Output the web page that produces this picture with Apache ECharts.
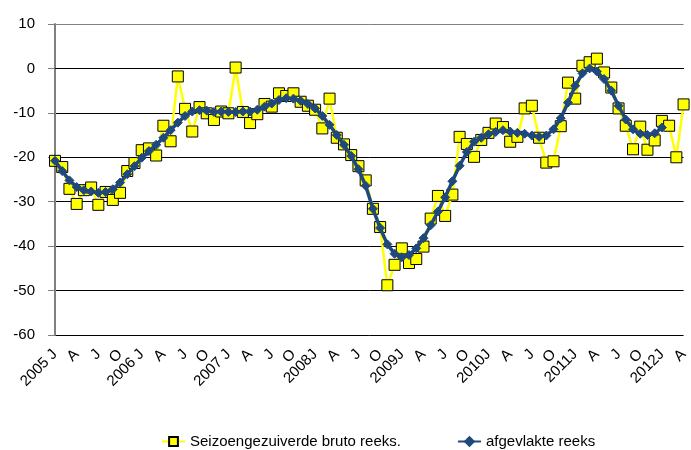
<!DOCTYPE html>
<html>
<head>
<meta charset="utf-8">
<script src="https://cdn.jsdelivr.net/npm/echarts@6/dist/echarts.min.js"></script>
<style>
html,body{margin:0;padding:0;background:#fff;}
#chart{width:691px;height:450px;}
</style>
</head>
<body>
<div id="chart"></div>
<script>
var years = [2005, 2006, 2007, 2008, 2009, 2010, 2011, 2012];
var yearLabels = ["2005 J", "2006 J", "2007 J", "2008J", "2009J", "2010J", "2011J", "2012J"];
var monthLetters = ["J","F","M","A","M","J","J","A","S","O","N","D"];
var monthCount = 88;

var bruto = [
  -20.8, -22.2, -27.1, -30.5, -27.4, -26.8, -30.7, -27.8, -29.6, -28.0, -23.1, -21.3,
  -18.4, -18.0, -19.6, -12.9, -16.4, -1.8, -9.1, -14.2, -8.7, -10.1, -11.6, -9.7,
  -10.1, 0.2, -9.8, -12.3, -10.3, -8.0, -8.6, -5.6, -6.2, -5.6, -7.5, -8.4,
  -9.3, -13.5, -6.8, -15.6, -17.1, -19.5, -22.0, -25.2, -31.6, -35.7, -48.8, -44.2,
  -40.5, -43.8, -42.9, -40.1, -33.8, -28.7, -33.2, -28.4, -15.4, -17.0, -19.9, -16.1,
  -14.5, -12.4, -13.2, -16.5, -15.4, -9.0, -8.4, -15.6, -21.2, -20.9, -13.0, -3.2,
  -6.8, 0.6, 1.4, 2.2, -0.9, -4.3, -9.0, -12.9, -18.2, -13.1, -18.3, -16.2,
  -11.8, -12.9, -20.0, -8.1
];

var afgevlakt = [
  -20.8, -23.1, -25.2, -26.7, -27.4, -27.7, -28.0, -27.8, -27.2, -25.7, -23.8, -22.0,
  -20.1, -18.6, -17.2, -15.6, -13.9, -12.2, -10.7, -9.7, -9.4, -9.5, -9.8, -9.7,
  -9.8, -9.8, -9.7, -9.7, -9.3, -8.6, -7.9, -7.1, -6.7, -6.8, -7.3, -8.0,
  -9.0, -10.7, -12.7, -15.0, -17.2, -19.7, -22.7, -26.4, -31.6, -35.9, -39.6, -41.7,
  -42.5, -42.0, -40.5, -38.2, -35.3, -32.2, -29.0, -25.4, -21.9, -18.8, -16.5, -15.6,
  -14.8, -14.3, -13.9, -14.2, -14.5, -14.7, -15.1, -15.4, -15.1, -13.7, -11.2, -7.7,
  -3.9, -1.1, 0.0, -0.7, -2.4, -5.0, -8.4, -11.5, -13.7, -14.7, -15.0, -14.6,
  -13.3, null, null, null
];

var yTicks = { min: -60, max: 10, interval: 10 };

var categories = [];
for (var i = 0; i < monthCount; i++) {
  var yi = Math.floor(i / 12);
  var m = i % 12;
  categories.push(m === 0 ? yearLabels[yi] : monthLetters[m]);
}

var chart = echarts.init(document.getElementById('chart'), null, {renderer: 'canvas'});
var font = '"Liberation Sans", Arial, sans-serif';

chart.setOption({
  animation: false,
  backgroundColor: '#ffffff',
  grid: { left: 55, right: 1, top: 24, bottom: 115, containLabel: false },
  legend: {
    left: 156,
    top: 429,
    itemWidth: 23,
    itemHeight: 11,
    itemGap: 56,
    textStyle: { fontFamily: font, fontSize: 15, color: '#000' },
    data: ['Seizoengezuiverde bruto reeks.', 'afgevlakte reeks']
  },
  xAxis: {
    type: 'category',
    data: categories,
    boundaryGap: false,
    axisLine: { show: true, lineStyle: { color: '#000', width: 1 } },
    axisTick: { show: false },
    axisLabel: {
      interval: 2,
      rotate: 45,
      margin: 17,
      fontFamily: font,
      fontSize: 15,
      color: '#000'
    },
    splitLine: { show: false }
  },
  yAxis: {
    type: 'value',
    min: yTicks.min,
    max: yTicks.max,
    interval: yTicks.interval,
    axisLine: { show: true, lineStyle: { color: '#808080', width: 2 } },
    axisTick: { show: true, length: 7, lineStyle: { color: '#808080', width: 1 } },
    axisLabel: { margin: 20, fontFamily: font, fontSize: 15, color: '#000' },
    splitLine: {
      show: true,
      lineStyle: { color: ['#000','#000','#000','#000','#000','#000','#000','#808080'], width: 1 }
    }
  },
  series: [
    {
      name: 'Seizoengezuiverde bruto reeks.',
      type: 'line',
      data: bruto,
      symbol: 'rect',
      symbolSize: 11,
      showAllSymbol: true,
      lineStyle: { color: '#FFFF00', width: 2.5 },
      itemStyle: { color: '#FFFF00', borderColor: '#000', borderWidth: 1 },
      z: 2
    },
    {
      name: 'afgevlakte reeks',
      type: 'line',
      data: afgevlakt,
      symbol: 'diamond',
      symbolSize: 9,
      showAllSymbol: true,
      lineStyle: { color: '#1F497D', width: 3.5 },
      itemStyle: { color: '#1F497D', borderColor: '#1F497D', borderWidth: 1 },
      z: 3
    }
  ]
});
</script>
</body>
</html>
